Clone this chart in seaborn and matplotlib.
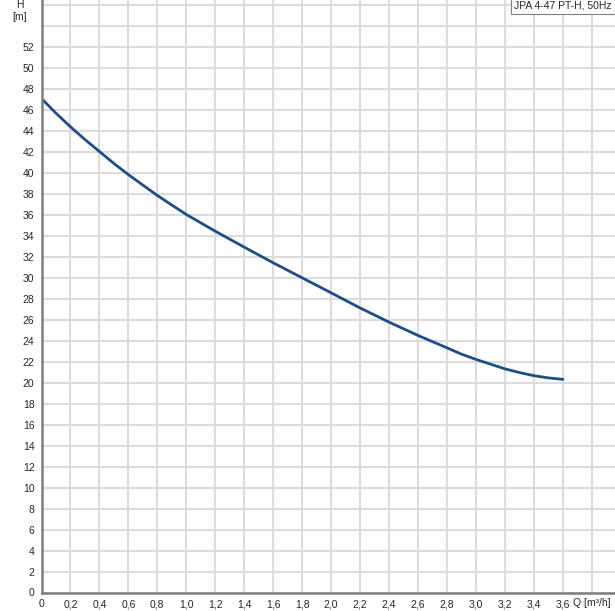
import numpy as np
import pandas as pd
import seaborn as sns
import matplotlib.pyplot as plt

# pump curve
flow = [0.0, 0.1, 0.2, 0.3, 0.4, 0.5, 0.6, 0.7, 0.8, 0.9, 1.0, 1.2, 1.4, 1.6, 1.8, 2.0,
        2.2, 2.4, 2.6, 2.8, 2.9, 3.0, 3.1, 3.2, 3.3, 3.4, 3.5, 3.6]
head = [47.05, 45.65, 44.35, 43.14, 42.0, 40.86, 39.8, 38.8, 37.81, 36.9, 36.0, 34.41, 32.89, 31.4, 29.97, 28.54,
        27.1, 25.75, 24.48, 23.3, 22.7, 22.2, 21.75, 21.3, 20.95, 20.65, 20.44, 20.3]
label = "JPA 4-47 PT-H, 50Hz"

df = pd.DataFrame({"Q": flow, "H": head})

sns.set_style("white")
plt.rcParams['font.family'] = ['Liberation Sans', 'DejaVu Sans']

fig = plt.figure(figsize=(6.15, 6.11), dpi=100)
ax = fig.add_axes([41.5 / 615, 18.5 / 611, 1 - 41.5 / 615, 1 - 18.5 / 611])

sns.lineplot(data=df, x="Q", y="H", color="#1d4e85", linewidth=2, ax=ax)

ax.set_xlim(0, 3.96)
ax.set_ylim(0, 56.43)

xt = np.round(np.arange(0, 3.81, 0.2), 1)
ax.set_xticks(xt)
ax.set_xticklabels(["0"] + [("%.1f" % v).replace(".", ",") for v in xt[1:-1]] + [""])
yt = np.arange(0, 57, 2)
ax.set_yticks(yt)
ax.set_yticklabels([str(v) if v <= 52 else "" for v in yt])

ax.grid(True, color="#dcdcdc", linewidth=1.5)
ax.set_axisbelow(True)
for s in ["top", "right"]:
    ax.spines[s].set_visible(False)
for s in ["left", "bottom"]:
    ax.spines[s].set_color("#7f7f7f")
    ax.spines[s].set_linewidth(1.8)
ax.tick_params(axis="both", length=3, width=1, color="#7f7f7f", labelsize=7.5, pad=2)
ax.set_xlabel("")
ax.set_ylabel("")

ax.annotate("Q [m³/h]", xy=(3.6, 0), xycoords="data", xytext=(7.2, -7.2),
            textcoords="offset points", fontsize=7.5, ha="left", va="center")
ax.annotate("H", xy=(0, 55.95), xycoords="data", xytext=(-15.5, 0),
            textcoords="offset points", fontsize=7.5, ha="center", va="center")
ax.annotate("[m]", xy=(0, 54.8), xycoords="data", xytext=(-15.5, 0),
            textcoords="offset points", fontsize=7.5, ha="center", va="center")

ax.text(0.994, 0.999, label, transform=ax.transAxes, ha="right", va="top", fontsize=7.5,
        bbox=dict(boxstyle="square,pad=0.3", facecolor="white", edgecolor="#808080", linewidth=0.8))

fig.savefig("out.png", dpi=100)
